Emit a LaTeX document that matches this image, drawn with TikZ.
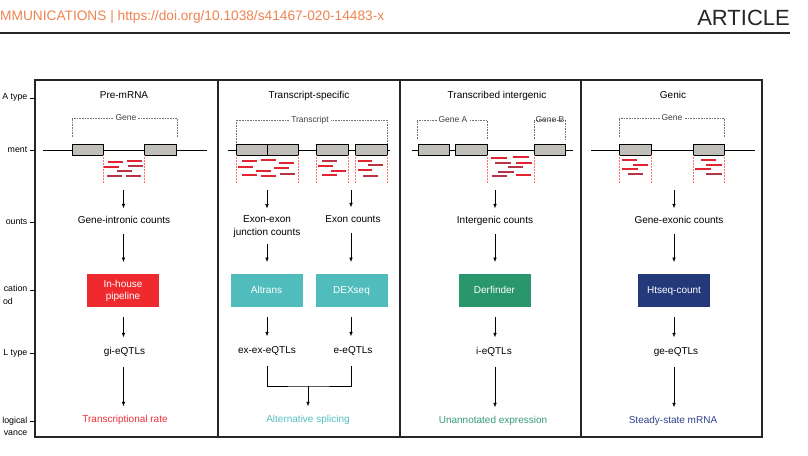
\documentclass[tikz,border=0pt]{standalone}
\usepackage{fontspec}
\setmainfont{Liberation Sans}
\usetikzlibrary{arrows.meta}
\definecolor{hdr}{RGB}{238,132,80}
\definecolor{exongray}{RGB}{192,190,184}
\definecolor{readA}{RGB}{226,36,48}
\definecolor{readB}{RGB}{184,52,68}
\definecolor{mred}{RGB}{238,42,47}
\definecolor{mteal}{RGB}{80,188,188}
\definecolor{mgreen}{RGB}{42,150,108}
\definecolor{mnavy}{RGB}{35,57,122}
\definecolor{tred}{RGB}{238,48,56}
\definecolor{tteal}{RGB}{84,192,192}
\definecolor{tgreen}{RGB}{52,158,116}
\definecolor{tnavy}{RGB}{48,66,140}
\begin{document}
\begin{tikzpicture}[x=1pt,y=-1pt,
  txt/.style={font=\fontsize{10}{12}\selectfont, inner sep=0pt, text height=7.5pt, text depth=2pt},
  rowlab/.style={font=\fontsize{8.8}{10.5}\selectfont, inner sep=0pt, text height=6.6pt, text depth=1.8pt, anchor=east},
  cnt/.style={txt, outer ysep=8pt},
  eq/.style={txt, outer ysep=10pt},
  rel/.style={txt, outer ysep=9pt},
  meth/.style={minimum width=72pt, minimum height=33pt, inner sep=0pt, outer sep=0pt, text=white,
    font=\fontsize{10}{12}\selectfont, align=center},
  methone/.style={meth, text height=7.5pt, text depth=2pt},
  arr/.style={-{Latex[length=4.5pt,width=3.6pt]}, line width=0.6pt},
  brk/.style={densely dotted, line width=0.6pt, draw=black!55},
  brklab/.style={font=\fontsize{8.5}{10}\selectfont, fill=white, inner xsep=2pt, inner ysep=1pt, text=black!75},
  exon/.style={draw=black, line width=0.9pt, fill=exongray},
  rdot/.style={densely dotted, draw=red!55, line width=0.5pt},
  rdA/.style={line width=2.2pt, draw=readA},
  rdB/.style={line width=2.2pt, draw=readB},
  gline/.style={line width=0.9pt, draw=black},
  tick/.style={line width=0.9pt, draw=black}
]
\useasboundingbox (0,0) rectangle (808,455);
\fill[white] (0,0) rectangle (808,455);

% header
\node[anchor=west, inner sep=0pt, text=hdr, font=\fontsize{13.7}{16}\selectfont] (hdrtxt) at (0,17)
  {MMUNICATIONS | https://doi.org/10.1038/s41467-020-14483-x};
\node[anchor=east, inner sep=0pt, text=black!85, font=\fontsize{22}{24}\selectfont] (art) at (790,18) {ARTICLE};
\draw[line width=1.2pt, black!85] (0,33) -- (790,33);

% frame
\draw[line width=1.3pt, draw=black!85] (35,80) rectangle (762,437);
\foreach \xx in {218,400,581} \draw[line width=1.3pt, draw=black!85] (\xx,80) -- (\xx,437);

% row labels (cut at the left edge in the source)
\node[rowlab] (l1) at (27.5,97.5) {A type};
\node[rowlab] (l2) at (27.5,150) {ment};
\node[rowlab] (l3) at (27.5,222) {ounts};
\node[rowlab] (l4) at (27.5,289.5) {cation};
\node[rowlab] (l4b) at (13,302) {od};
\node[rowlab] (l5) at (27.5,353) {L type};
\node[rowlab] (l6) at (27.5,421) {logical};
\node[rowlab] (l6b) at (27.5,433.5) {vance};
\foreach \yy in {98,150,222,290.5,353,421.5} \draw[tick] (29.5,\yy) -- (35,\yy);

% ===== Column 1: Pre-mRNA
\node[txt] (t1) at (124,96) {Pre-mRNA};
\draw[brk] (72,137) -- (72,118) -- (177,118) -- (177,137);
\node[brklab] (b1) at (126,118) {Gene};
\draw[gline] (43,150) -- (207,150);
\draw[exon] (72,144) rectangle (103,155);
\draw[exon] (144,144) rectangle (176,155);
\draw[rdot] (103,155) -- (103,183);
\draw[rdot] (144,155) -- (144,183);
\draw[rdA] (108,162) -- ++(15,0);
\draw[rdA] (127,161) -- ++(15,0);
\draw[rdA] (104,167) -- ++(15,0);
\draw[rdB] (128,166) -- ++(15,0);
\draw[rdB] (117,171) -- ++(15,0);
\draw[rdB] (107,176) -- ++(15,0);
\draw[rdB] (126,176) -- ++(15,0);
\coordinate (r1) at (123.5,190);
\node[cnt] (c1) at (124,221) {Gene-intronic counts};
\node[meth, fill=mred] (m1) at (123,290.5) {In-house\\pipeline};
\node[eq] (e1) at (124.5,352) {gi-eQTLs};
\node[rel, text=tred] (v1) at (125,420) {Transcriptional rate};
\draw[arr] (r1) -- (r1 |- c1.north);
\draw[arr, shorten >=12pt] (r1 |- c1.south) -- (r1 |- m1.north);
\draw[arr, shorten <=10pt] (r1 |- m1.south) -- (r1 |- e1.north);
\draw[arr] (r1 |- e1.south) -- (r1 |- v1.north);

% ===== Column 2: Transcript-specific
\node[txt] (t2) at (309,96) {Transcript-specific};
\draw[brk] (236,143) -- (236,120) -- (387,120) -- (387,143);
\node[brklab] (b2) at (310,120) {Transcript};
\draw[gline] (228,150) -- (390,150);
\draw[exon] (236,144) rectangle (267,155);
\draw[exon] (267,144) rectangle (298,155);
\draw[exon] (316,144) rectangle (348,155);
\draw[exon] (355,144) rectangle (387,155);
\foreach \xx in {236,298,316,348,355,387} \draw[rdot] (\xx,155) -- (\xx,183);
\draw[rdA] (242,161) -- ++(15,0);
\draw[rdA] (261,160) -- ++(15,0);
\draw[rdA] (279,163) -- ++(15,0);
\draw[rdA] (238,167) -- ++(15,0);
\draw[rdA] (274,168) -- ++(15,0);
\draw[rdA] (256,171) -- ++(15,0);
\draw[rdA] (242,175) -- ++(15,0);
\draw[rdB] (280,174) -- ++(15,0);
\draw[rdA] (261,176) -- ++(15,0);
\draw[rdB] (322,161) -- ++(15,0);
\draw[rdA] (318,166) -- ++(15,0);
\draw[rdA] (331,171) -- ++(15,0);
\draw[rdA] (322,175) -- ++(15,0);
\draw[rdA] (358,161) -- ++(14,0);
\draw[rdB] (368,165) -- ++(15,0);
\draw[rdA] (358,170) -- ++(14,0);
\draw[rdB] (363,176) -- ++(15,0);
\coordinate (r2a) at (267,190);
\coordinate (r2b) at (351,190);
\node[font=\fontsize{10}{13}\selectfont, inner sep=0pt, outer ysep=7pt, align=center] (c2a) at (267,226.5) {Exon-exon\\junction counts};
\node[cnt] (c2b) at (353,220) {Exon counts};
\node[methone, fill=mteal] (m2a) at (266.5,290.5) {Altrans};
\node[methone, fill=mteal] (m2b) at (351.5,290.5) {DEXseq};
\node[eq] (e2a) at (267,351) {ex-ex-eQTLs};
\node[eq] (e2b) at (353,351) {e-eQTLs};
\node[rel, text=tteal] (v2) at (308,420) {Alternative splicing};
\coordinate (j2) at (308,386);
\draw[arr] (r2a) -- (r2a |- c2a.north);
\draw[arr] (r2b) -- (r2b |- c2b.north);
\draw[arr, shorten >=12pt] (r2a |- c2a.south) -- (r2a |- m2a.north);
\draw[arr, shorten >=12pt] (r2b |- c2b.south) -- (r2b |- m2b.north);
\draw[arr, shorten <=10pt] (r2a |- m2a.south) -- (r2a |- e2a.north);
\draw[arr, shorten <=10pt] (r2b |- m2b.south) -- (r2b |- e2b.north);
\draw[line width=0.6pt] (r2a |- e2a.south) |- (j2) -| (r2b |- e2b.south);
\draw[arr] (j2) -- (j2 |- v2.north);

% ===== Column 3: Transcribed intergenic
\node[txt] (t3) at (497,96) {Transcribed intergenic};
\draw[brk] (417,139) -- (417,120) -- (487,120) -- (487,139);
\node[brklab] (b3a) at (453,120) {Gene A};
\draw[brk] (534,139) -- (534,120) -- (565,120) -- (565,139);
\node[brklab, fill=none, inner xsep=0pt] (b3b) at (550,120) {Gene B};
\draw[gline] (412,150) -- (573,150);
\draw[exon] (418,144) rectangle (449,155);
\draw[exon] (455,144) rectangle (487,155);
\draw[exon] (534,144) rectangle (565,155);
\draw[rdot] (487,155) -- (487,183);
\draw[rdot] (534,155) -- (534,183);
\draw[rdA] (491,158) -- ++(16,0);
\draw[rdA] (513,157) -- ++(16,0);
\draw[rdB] (495,163) -- ++(16,0);
\draw[rdA] (516,163) -- ++(16,0);
\draw[rdB] (508,167) -- ++(15,0);
\draw[rdB] (498,172) -- ++(16,0);
\draw[rdB] (492,176) -- ++(15,0);
\draw[rdA] (516,175) -- ++(15,0);
\coordinate (r3) at (495,190);
\node[cnt] (c3) at (495,221) {Intergenic counts};
\node[methone, fill=mgreen] (m3) at (494.5,290.5) {Derfinder};
\node[eq] (e3) at (494,352) {i-eQTLs};
\node[rel, text=tgreen] (v3) at (493,421) {Unannotated expression};
\draw[arr] (r3) -- (r3 |- c3.north);
\draw[arr, shorten >=12pt] (r3 |- c3.south) -- (r3 |- m3.north);
\draw[arr, shorten <=10pt] (r3 |- m3.south) -- (r3 |- e3.north);
\draw[arr] (r3 |- e3.south) -- (r3 |- v3.north);

% ===== Column 4: Genic
\node[txt] (t4) at (673,96) {Genic};
\draw[brk] (619,137) -- (619,118) -- (724,118) -- (724,137);
\node[brklab] (b4) at (672,118) {Gene};
\draw[gline] (591,150) -- (755,150);
\draw[exon] (619,144) rectangle (651,155);
\draw[exon] (693,144) rectangle (724,155);
\foreach \xx in {619,651,693,724} \draw[rdot] (\xx,155) -- (\xx,183);
\draw[rdA] (622,160) -- ++(15,0);
\draw[rdA] (633,165) -- ++(15,0);
\draw[rdA] (622,169) -- ++(16,0);
\draw[rdB] (628,174) -- ++(15,0);
\draw[rdA] (701,160) -- ++(15,0);
\draw[rdA] (706,165) -- ++(16,0);
\draw[rdA] (695,169) -- ++(16,0);
\draw[rdB] (706,174) -- ++(16,0);
\coordinate (r4) at (674,190);
\node[cnt] (c4) at (679,221) {Gene-exonic counts};
\node[methone, fill=mnavy] (m4) at (674,290.5) {Htseq-count};
\node[eq] (e4) at (676,352) {ge-eQTLs};
\node[rel, text=tnavy] (v4) at (673,421) {Steady-state mRNA};
\draw[arr] (r4) -- (r4 |- c4.north);
\draw[arr, shorten >=12pt] (r4 |- c4.south) -- (r4 |- m4.north);
\draw[arr, shorten <=10pt] (r4 |- m4.south) -- (r4 |- e4.north);
\draw[arr] (r4 |- e4.south) -- (r4 |- v4.north);
\end{tikzpicture}
\end{document}
